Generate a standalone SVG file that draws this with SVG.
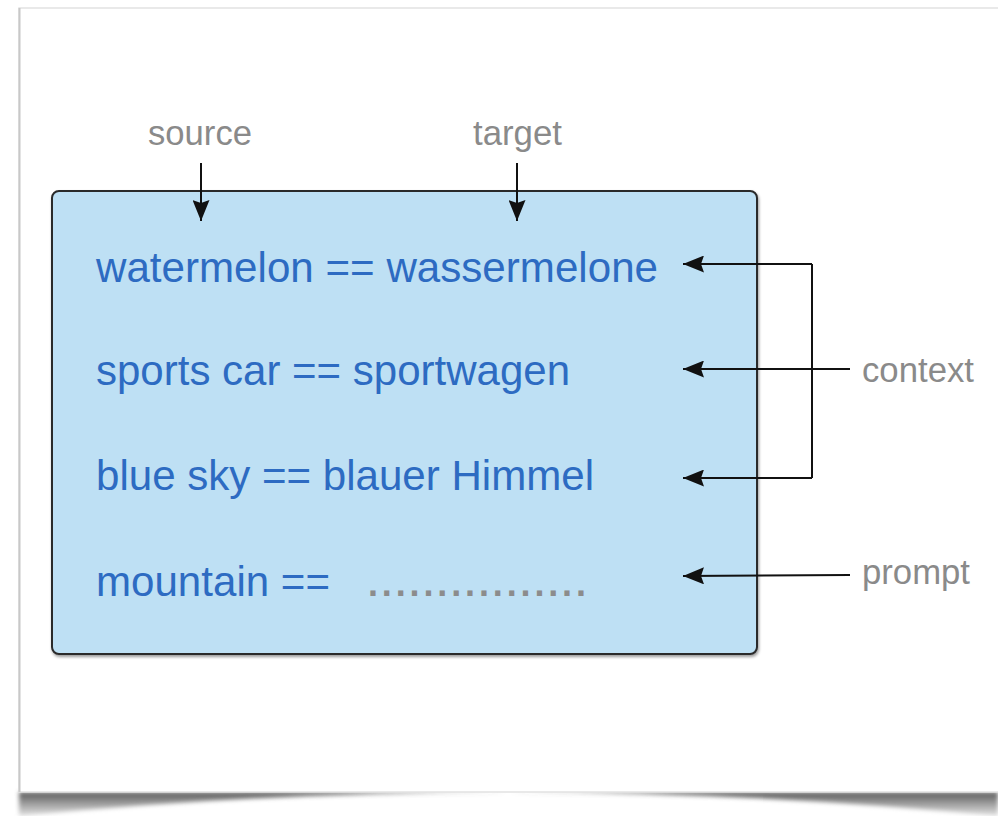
<svg xmlns="http://www.w3.org/2000/svg" width="998" height="816" viewBox="0 0 998 816">
  <defs>
    <marker id="ah" markerWidth="22" markerHeight="17" refX="21" refY="8.5" orient="auto" markerUnits="userSpaceOnUse">
      <path d="M0,0 L21,8.5 L0,17 L3,8.5 Z" fill="#111"/>
    </marker>
    <linearGradient id="shadowGrad" x1="0" y1="0" x2="0" y2="1">
      <stop offset="0" stop-color="#5a5a5a"/>
      <stop offset="1" stop-color="#e4e4e4"/>
    </linearGradient>
    <filter id="blur" x="-5%" y="-50%" width="110%" height="200%">
      <feGaussianBlur stdDeviation="2"/>
    </filter>
    <filter id="boxShadow" x="-5%" y="-5%" width="110%" height="110%">
      <feGaussianBlur in="SourceAlpha" stdDeviation="1.5"/>
      <feOffset dx="1" dy="1.5" result="b"/>
      <feComponentTransfer><feFuncA type="linear" slope="0.4"/></feComponentTransfer>
      <feMerge><feMergeNode/><feMergeNode in="SourceGraphic"/></feMerge>
    </filter>
  </defs>
  <style>
    .blue { font-family: "Liberation Sans", Arial, sans-serif; font-size: 42px; fill: #2d6bc2; }
    .label { font-family: "Liberation Sans", Arial, sans-serif; font-size: 34.5px; fill: #8a8a8a; }
    .dots { font-family: "Liberation Sans", Arial, sans-serif; font-size: 36px; font-weight: bold; fill: #8c8c8c; }
    .conn { stroke: #111; stroke-width: 2; fill: none; }
  </style>

  <!-- page background -->
  <rect x="0" y="0" width="998" height="816" fill="#ffffff"/>
  <!-- page shadow (curled) -->
  <path d="M19,792 L998,792 L998,816 Q 508,768 19,816 Z" fill="url(#shadowGrad)" filter="url(#blur)"/>
  <!-- page card -->
  <rect x="19" y="8" width="990" height="784" fill="#ffffff" stroke="#e2e2e2" stroke-width="1.5"/>
  <line x1="19.5" y1="8" x2="19.5" y2="792" stroke="#c8c8c8" stroke-width="2"/>

  <!-- main box -->
  <g id="box">
    <rect x="52" y="191" width="705" height="463" rx="7" ry="7" fill="#bee0f4" stroke="#2b2b2b" stroke-width="2" filter="url(#boxShadow)"/>
    <text class="blue" x="96" y="282" textLength="562" lengthAdjust="spacingAndGlyphs">watermelon == wassermelone</text>
    <text class="blue" x="96" y="385" textLength="474" lengthAdjust="spacingAndGlyphs">sports car == sportwagen</text>
    <text class="blue" x="96" y="490" textLength="498" lengthAdjust="spacingAndGlyphs">blue sky == blauer Himmel</text>
    <text class="blue" x="96" y="596" textLength="234" lengthAdjust="spacingAndGlyphs">mountain ==</text>
    <text class="dots" x="368" y="596" textLength="218" lengthAdjust="spacing">................</text>
  </g>

  <g id="label-source">
    <text class="label" x="148" y="145" textLength="104" lengthAdjust="spacingAndGlyphs">source</text>
  </g>
  <g id="label-target">
    <text class="label" x="473" y="145" textLength="89" lengthAdjust="spacingAndGlyphs">target</text>
  </g>
  <g id="label-context">
    <text class="label" x="862" y="382" textLength="112" lengthAdjust="spacingAndGlyphs">context</text>
  </g>
  <g id="label-prompt">
    <text class="label" x="862" y="584" textLength="108" lengthAdjust="spacingAndGlyphs">prompt</text>
  </g>

  <!-- connectors -->
  <g id="connectors">
    <path class="conn" d="M201,163 L201,221" marker-end="url(#ah)"/>
    <path class="conn" d="M517,163 L517,221" marker-end="url(#ah)"/>
    <path class="conn" d="M812,264 L812,478"/>
    <path class="conn" d="M812,264 L683,264" marker-end="url(#ah)"/>
    <path class="conn" d="M850,369 L683,369" marker-end="url(#ah)"/>
    <path class="conn" d="M812,478 L683,478" marker-end="url(#ah)"/>
    <path class="conn" d="M850,575 L683,576" marker-end="url(#ah)"/>
  </g>
</svg>
